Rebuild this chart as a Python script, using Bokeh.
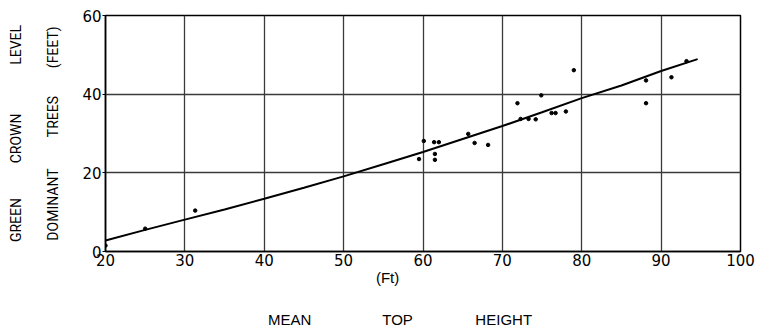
import math
from bokeh.plotting import figure
from bokeh.models import Range1d, FixedTicker, Title
from bokeh.embed import file_html
from bokeh.resources import INLINE

# ---- data ----
x_ticks = [20, 30, 40, 50, 60, 70, 80, 90, 100]
y_ticks = [0, 20, 40, 60]

curve_x = [20, 25, 30, 35, 40, 45, 50, 55, 60, 65, 70, 75, 80, 85, 90, 94.6]
curve_y = [2.8, 5.5, 8.1, 10.7, 13.4, 16.2, 19.1, 22.2, 25.3, 28.6, 31.9, 35.4, 39.0, 42.2, 45.9, 48.9]

pts_x = [20, 25, 31.3, 59.5, 60.1, 61.4, 62.0, 61.5, 61.5, 65.7, 66.5, 68.2, 71.9, 72.3,
         73.3, 74.2, 74.9, 76.2, 76.7, 78.0, 79.0, 88.1, 88.1, 91.3, 93.2]
pts_y = [1.5, 5.8, 10.4, 23.5, 28.1, 27.8, 27.8, 24.8, 23.3, 29.9, 27.6, 27.1, 37.7, 33.7,
         33.7, 33.6, 39.7, 35.2, 35.2, 35.6, 46.1, 43.5, 37.7, 44.3, 48.4]

y_title_1 = ["GREEN", "CROWN", "LEVEL"]
y_title_2 = ["DOMINANT", "TREES", "(FEET)"]
x_unit = "(Ft)"
x_title = ["MEAN", "TOP", "HEIGHT"]

W, H = 757, 331
FL, FR, FT, FB = 105, 740, 15, 252   # frame edges in page pixels

NB = "\u00a0"

p = figure(width=W, height=H, output_backend="svg", toolbar_location=None,
           x_range=Range1d(20, 100), y_range=Range1d(0, 60),
           min_border_left=FL, min_border_right=W - FR,
           min_border_top=FT, min_border_bottom=H - FB)
p.background_fill_color = "white"
p.border_fill_color = "white"
p.outline_line_color = "black"
p.outline_line_width = 1.5

for ax in (p.xaxis[0], p.yaxis[0]):
    ax.axis_line_color = "black"
    ax.axis_line_width = 1.5
    ax.major_tick_in = 0
    ax.minor_tick_line_color = None
    ax.major_label_text_font = "DejaVu Sans"
    ax.major_label_text_font_size = "15px"
    ax.major_label_text_color = "black"

p.xaxis[0].ticker = FixedTicker(ticks=x_ticks)
p.yaxis[0].ticker = FixedTicker(ticks=y_ticks)
p.xaxis[0].major_tick_out = 0
p.xaxis[0].major_label_standoff = 2
p.yaxis[0].major_tick_out = 3
p.yaxis[0].major_tick_line_color = "black"
p.yaxis[0].major_label_standoff = 1

p.xgrid.ticker = FixedTicker(ticks=x_ticks)
p.ygrid.ticker = FixedTicker(ticks=y_ticks)
for g in (p.xgrid[0], p.ygrid[0]):
    g.grid_line_color = "#3a3a3a"
    g.grid_line_width = 1.3

p.line(curve_x, curve_y, line_color="black", line_width=2)
p.scatter(pts_x, pts_y, size=3.5, color="black")

def join(words, gaps):
    out = words[0]
    for w, g in zip(words[1:], gaps):
        out += NB * g + w
    return out

# x axis label: "(Ft)" line, a blank line, then "MEAN   TOP   HEIGHT"
line1 = NB * 26 + x_unit + NB * 32 + NB * 11
line3 = join(x_title, [17, 15]) + NB * 11
xa = p.xaxis[0]
xa.axis_label = line1 + "\n" + NB + "\n" + line3
xa.axis_label_standoff = 0
xa.axis_label_text_font = "Liberation Sans"
xa.axis_label_text_font_size = "15px"
xa.axis_label_text_font_style = "normal"
xa.axis_label_text_color = "black"
xa.axis_label_text_line_height = 1.25

# left side titles (first added sits next to the axis)
t2 = Title(text=join(y_title_2, [9, 8]), align="center", standoff=38,
           text_font="Roboto", text_font_size="14px", text_font_style="normal",
           text_color="black", text_line_height=1.0)
t1 = Title(text=join(y_title_1, [10, 14]), align="center", standoff=0,
           text_font="Roboto", text_font_size="14px", text_font_style="normal",
           text_color="black", text_line_height=1.0)
p.add_layout(t2, "left")
p.add_layout(t1, "left")

open("out.html", "w").write(file_html(p, INLINE))
